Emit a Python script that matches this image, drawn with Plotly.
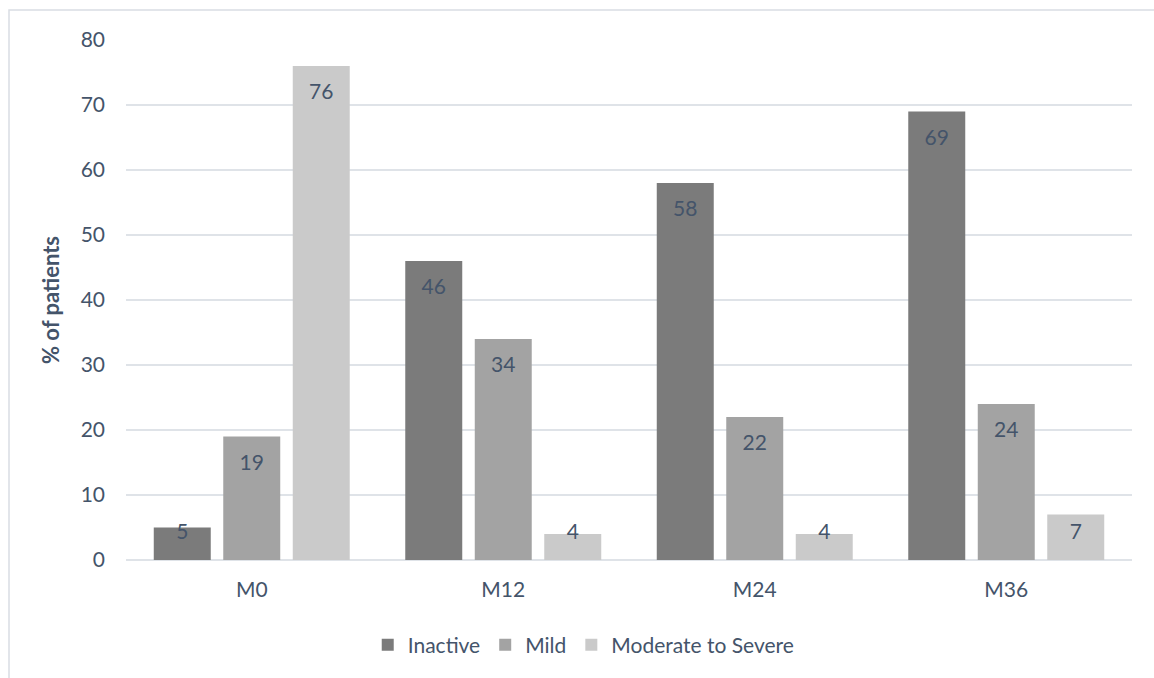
import plotly.graph_objects as go

# Disease activity by visit
visits = ["M0", "M12", "M24", "M36"]
inactive = [5, 46, 58, 69]
mild = [19, 34, 22, 24]
moderate_severe = [76, 4, 4, 7]

series_names = ["Inactive", "Mild", "Moderate to Severe"]
series_values = [inactive, mild, moderate_severe]
series_colors = ["#7b7b7b", "#a3a3a3", "#cacaca"]

y_ticks = [0, 10, 20, 30, 40, 50, 60, 70, 80]

FONT = "Lato"
TEXT_COLOR = "#44546a"
GRID_COLOR = "#dfe3e8"

fig = go.Figure()

for i, (name, vals, color) in enumerate(zip(series_names, series_values, series_colors)):
    fig.add_trace(go.Bar(
        x=visits,
        y=vals,
        name=name,
        marker=dict(color=color, line=dict(width=0)),
        offsetgroup=str(i),
        hoverinfo="x+y+name",
    ))

# Value labels sit just inside the top of each bar (kept inside short bars)
px_per_unit = 520 / 80
for i, vals in enumerate(series_values):
    label_y = [max(v - 28 / px_per_unit, 26 / px_per_unit) for v in vals]
    fig.add_trace(go.Scatter(
        x=visits,
        y=label_y,
        mode="text",
        text=[str(v) for v in vals],
        textposition="middle center",
        textfont=dict(family=FONT, size=21, color=TEXT_COLOR),
        offsetgroup=str(i),
        showlegend=False,
        hoverinfo="skip",
    ))

# Light frame around the chart area
fig.add_shape(
    type="rect", xref="paper", yref="paper",
    x0=(9 - 126) / 1006, x1=(1170 - 126) / 1006,
    y0=(560 - 700) / 520, y1=(560 - 10) / 520,
    line=dict(color="#d9dde3", width=1.5),
    fillcolor="rgba(0,0,0,0)",
    layer="below",
)

fig.update_layout(
    width=1154,
    height=678,
    margin=dict(l=126, r=22, t=40, b=118),
    paper_bgcolor="white",
    plot_bgcolor="white",
    barmode="group",
    scattermode="group",
    bargap=0.171,
    bargroupgap=0.18,
    font=dict(family=FONT, size=21, color=TEXT_COLOR),
    showlegend=True,
    legend=dict(
        orientation="h",
        x=0.455, xanchor="center",
        y=-0.1635, yanchor="middle",
        font=dict(family=FONT, size=21, color=TEXT_COLOR),
        traceorder="normal",
    ),
    xaxis=dict(
        type="category",
        showgrid=False,
        showline=False,
        ticks="",
        ticklabelstandoff=15,
        tickfont=dict(family=FONT, size=21, color=TEXT_COLOR),
    ),
    yaxis=dict(
        range=[0, 80],
        tickvals=y_ticks,
        showgrid=True,
        gridcolor=GRID_COLOR,
        gridwidth=1.5,
        zeroline=True,
        zerolinecolor=GRID_COLOR,
        zerolinewidth=1.5,
        showline=False,
        ticks="",
        ticklabelstandoff=20,
        tickfont=dict(family=FONT, size=21, color=TEXT_COLOR),
        title=dict(
            text="<b>% of patients</b>",
            font=dict(family=FONT, size=22, color=TEXT_COLOR),
            standoff=14,
        ),
    ),
)

fig.write_html("out.html")
